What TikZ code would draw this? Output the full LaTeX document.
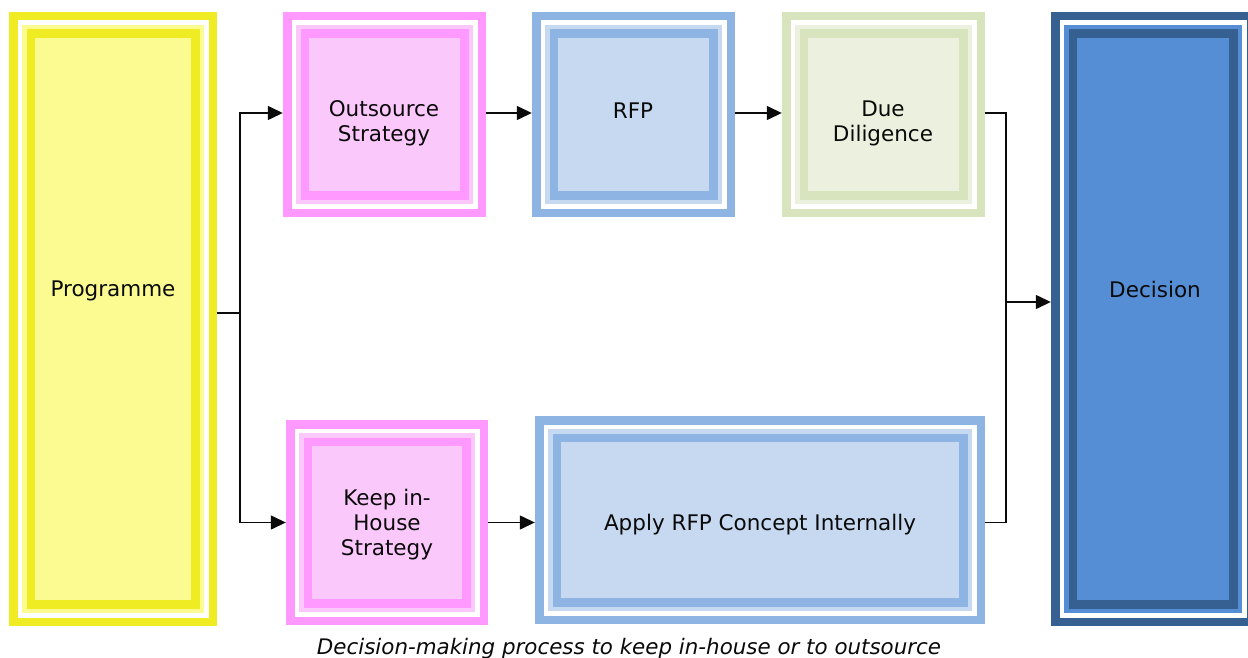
\documentclass[tikz,border=0pt]{standalone}
\usepackage{fontspec}
\setmainfont{DejaVu Sans}
\usetikzlibrary{arrows.meta}

% Office-style palette: dark border tone and light fill tone per box
\definecolor{ylwD}{RGB}{240,236,36}
\definecolor{ylwL}{RGB}{251,251,145}
\definecolor{pnkD}{RGB}{255,153,255}
\definecolor{pnkL}{RGB}{251,200,251}
\definecolor{bluD}{RGB}{142,180,227}
\definecolor{bluL}{RGB}{198,217,241}
\definecolor{grnD}{RGB}{215,228,189}
\definecolor{grnL}{RGB}{235,241,222}
\definecolor{decD}{RGB}{55,96,146}
\definecolor{decL}{RGB}{85,142,213}
\definecolor{ink}{RGB}{10,10,10}

\tikzset{
  % framed box: dark rim, white gap, light band, dark inner rim, light fill
  lbox/.style 2 args={
    rectangle, draw=none, inner sep=0pt, fill=#1,
    path picture={
      \fill[white] ([shift={(8.5pt,8.5pt)}]path picture bounding box.south west)
        rectangle ([shift={(-8.5pt,-8.5pt)}]path picture bounding box.north east);
      \fill[#2] ([shift={(13pt,13pt)}]path picture bounding box.south west)
        rectangle ([shift={(-13pt,-13pt)}]path picture bounding box.north east);
      \fill[#1] ([shift={(17.5pt,17.5pt)}]path picture bounding box.south west)
        rectangle ([shift={(-17.5pt,-17.5pt)}]path picture bounding box.north east);
      \fill[#2] ([shift={(26.3pt,26.3pt)}]path picture bounding box.south west)
        rectangle ([shift={(-26.3pt,-26.3pt)}]path picture bounding box.north east);
    }},
  txt/.style={align=center, text=ink, font=\fontsize{21.5}{25}\selectfont, inner sep=0pt},
  caption/.style={text=ink, font=\fontsize{21.4}{25}\selectfont\itshape, inner sep=0pt},
  link/.style={draw=ink, line width=1.4pt},
  flow/.style={link, -{Triangle[length=15pt,width=14pt]}}
}

\begin{document}
\begin{tikzpicture}[x=1pt, y=-1pt]
  \useasboundingbox[fill=white] (0,0) rectangle (1248,658);
  \clip (0,0) rectangle (1248,658);

  % boxes
  \node[lbox={ylwD}{ylwL}, minimum width=208pt, minimum height=614pt] (prog) at (113,319) {};
  \node[lbox={pnkD}{pnkL}, minimum width=203pt, minimum height=205pt] (out) at (384.5,114.5) {};
  \node[lbox={bluD}{bluL}, minimum width=203pt, minimum height=205pt] (rfp) at (633.5,114.5) {};
  \node[lbox={grnD}{grnL}, minimum width=203pt, minimum height=205pt] (dd) at (883.5,114.5) {};
  \node[lbox={pnkD}{pnkL}, minimum width=202pt, minimum height=205pt] (keep) at (387,522.5) {};
  \node[lbox={bluD}{bluL}, minimum width=450pt, minimum height=208pt] (apply) at (760,520) {};
  \node[lbox={decD}{decL}, minimum width=204pt, minimum height=614pt] (dec) at (1153,319) {};

  % box labels
  \node[txt] (progT) at (113,290.5) {Programme};
  \node[txt] (outT) at (384,123) {Outsource\\Strategy};
  \node[txt] (rfpT) at (633,110.5) {RFP};
  \node[txt] (ddT) at (883,123) {Due\\Diligence};
  \node[txt] (decT) at (1155,289.5) {Decision};
  \node[txt] (keepT) at (387,524.5) {Keep in-\\House\\Strategy};
  \node[txt] (applyT) at (760,525) {Apply RFP Concept Internally};

  % branching from the programme
  \coordinate (split) at (240,313);
  \draw[link] ([yshift=6pt]prog.east) -- (split);
  \draw[flow] (split) |- ([yshift=1.5pt]out.west);
  \draw[flow] (split) |- (keep.west);

  % sequential steps
  \draw[flow] ([yshift=1.5pt]out.east) -- ([yshift=1.5pt]rfp.west);
  \draw[flow] ([yshift=1.5pt]rfp.east) -- ([yshift=1.5pt]dd.west);
  \draw[flow] (keep.east) -- (keep.east -| apply.west);

  % both routes merge into the decision
  \coordinate (join) at (1006,302);
  \draw[link] ([yshift=1.5pt]dd.east) -| (join) |- (apply.east |- keep.east);
  \draw[flow] (join) -- (join -| dec.west);

  % caption
  \node[caption] (cap) at (629,649) {Decision-making process to keep in-house or to outsource};
\end{tikzpicture}
\end{document}
